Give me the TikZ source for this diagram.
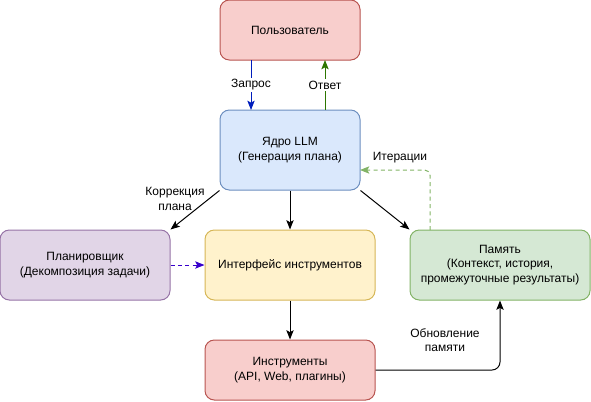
\documentclass[tikz,border=0pt]{standalone}
\usepackage{fontspec}
\setmainfont{Liberation Sans}
\usetikzlibrary{arrows.meta}
\definecolor{redF}{HTML}{F8CECC}\definecolor{redS}{HTML}{B85450}
\definecolor{bluF}{HTML}{DAE8FC}\definecolor{bluS}{HTML}{6C8EBF}
\definecolor{purF}{HTML}{E1D5E7}\definecolor{purS}{HTML}{9673A6}
\definecolor{yelF}{HTML}{FFF2CC}\definecolor{yelS}{HTML}{D6B656}
\definecolor{grnF}{HTML}{D5E8D4}\definecolor{grnS}{HTML}{82B366}
\definecolor{qBlue}{HTML}{001DBC}\definecolor{aGreen}{HTML}{2D7600}
\definecolor{dPurp}{HTML}{3700CC}
\begin{document}
\begin{tikzpicture}[x=0.75pt,y=-0.75pt,
  box/.style={draw, rounded corners=7pt, inner sep=0pt, align=center, font=\fontsize{9}{11}\selectfont, line width=0.75pt},
  conn/.style={line width=0.75pt, -{Stealth[length=7pt,width=5.5pt,inset=1.5pt]}},
  lab/.style={fill=white, inner sep=1pt, align=center, font=\fontsize{9}{11}\selectfont},
  dsh/.style={dash pattern=on 3pt off 2.5pt}]
\useasboundingbox (0,0) rectangle (591,401);
\node[box, fill=redF, draw=redS, minimum width=105pt, minimum height=45pt] (user) at (290,30) {Пользователь};
\node[box, fill=bluF, draw=bluS, minimum width=105pt, minimum height=60pt] (core) at (290,150) {Ядро LLM\\(Генерация плана)};
\node[box, fill=purF, draw=purS, minimum width=127.5pt, minimum height=52.5pt] (plan) at (85,265) {Планировщик\\(Декомпозиция задачи)};
\node[box, fill=yelF, draw=yelS, minimum width=127.5pt, minimum height=52.5pt] (iface) at (290,265) {Интерфейс инструментов};
\node[box, fill=grnF, draw=grnS, minimum width=135pt, minimum height=52.5pt] (mem) at (500,265) {Память\\(Контекст, история,\\промежуточные результаты)};
\node[box, fill=redF, draw=redS, minimum width=127.5pt, minimum height=45pt] (tools) at (290,370) {Инструменты\\(API, Web, плагины)};
\coordinate (c1) at (251,60); \coordinate (c2) at (251,110);
\coordinate (c3) at (325,110); \coordinate (c4) at (325,60);
\draw[conn, qBlue] (c1) -- node[lab, text=black] {Запрос} (c2);
\draw[conn, aGreen] (c3) -- node[lab, text=black] {Ответ} (c4);
\draw[conn] (core.south west) -- (plan.north east);
\node[lab, fill=none] (corr) at (175,199) {Коррекция\\плана};
\draw[conn] (core.south) -- (iface.north);
\draw[conn] (core.south east) -- (mem.north west);
\coordinate (i1) at (430,230); \coordinate (i2) at (430,170); \coordinate (i3) at (360,170);
\draw[conn, grnS, dsh, rounded corners=4pt] (i1) -- (i2) -- (i3);
\node[lab, fill=none] (iter) at (400,158) {Итерации};
\draw[conn, dPurp, dsh] (plan.east) -- (iface.west);
\draw[conn] (iface.south) -- (tools.north);
\coordinate (t1) at (500,370);
\draw[conn, rounded corners=6pt] (tools.east) -- (t1) -- (mem.south);
\node[lab, fill=none] (upd) at (445,340) {Обновление\\памяти};
\end{tikzpicture}
\end{document}
